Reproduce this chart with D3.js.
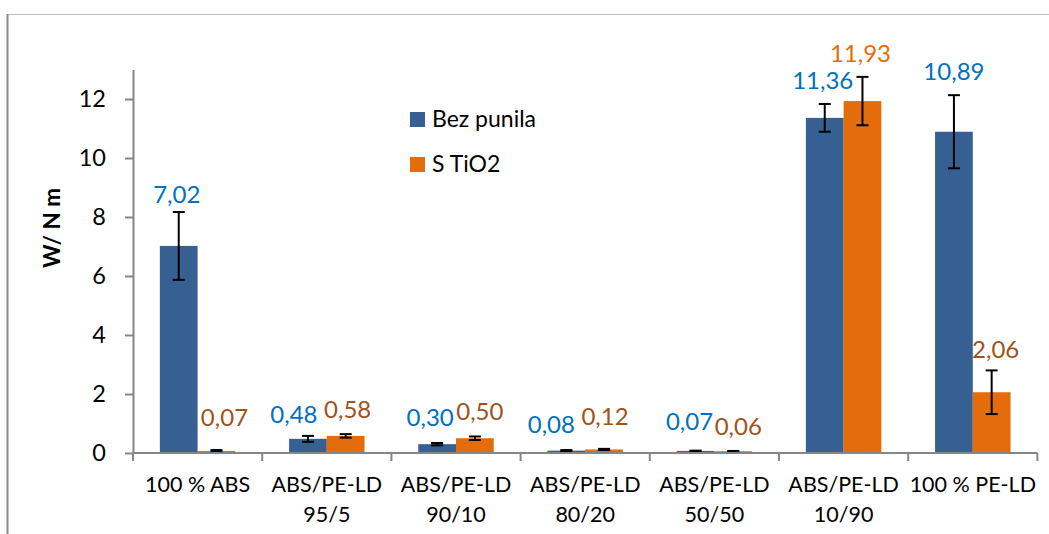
<!DOCTYPE html>
<html lang="en">
<head>
<meta charset="utf-8">
<title>W/ N m</title>
<script src="https://cdn.jsdelivr.net/npm/d3@7"></script>
<style>
  body { margin: 0; background: #fff; }
  svg { display: block; font-family: Lato, "Open Sans", sans-serif; }
</style>
</head>
<body>
<svg id="chart" width="1049" height="534"></svg>
<script>
// categories (two-line labels)
var categories = [
  ["100 % ABS"],
  ["ABS/PE-LD", "95/5"],
  ["ABS/PE-LD", "90/10"],
  ["ABS/PE-LD", "80/20"],
  ["ABS/PE-LD", "50/50"],
  ["ABS/PE-LD", "10/90"],
  ["100 % PE-LD"]
];
var seriesNames = ["Bez punila", "S TiO2"];

// values + error bars
var bezPunila    = [7.02, 0.48, 0.30, 0.08, 0.07, 11.36, 10.89];
var bezPunilaErr = [1.15, 0.10, 0.04, 0.02, 0.01, 0.47, 1.24];
var sTiO2        = [0.07, 0.58, 0.50, 0.12, 0.06, 11.93, 2.06];
var sTiO2Err     = [0.03, 0.06, 0.06, 0.02, 0.01, 0.82, 0.74];

var yTicks = [0, 2, 4, 6, 8, 10, 12];

// label nudges (px) -- the labels were hand-moved in the original
var labelNudgeBez = [[-2, 5], [-14, 1], [-7, -3], [-15, -3], [-6, -7], [-2, -1], [0, -1]];
var labelNudgeTi  = [[8, -10], [2, -2], [5, -2], [1, -10], [5, -2], [-2, -1], [4, 2]];

var svg = d3.select("#chart");

// outer frame (only top + left show in the crop)
svg.append("line").attr("x1", 7).attr("x2", 1049).attr("y1", 14.5).attr("y2", 14.5)
  .attr("stroke", "#c0c0c0").attr("stroke-width", 1.2);
svg.append("line").attr("x1", 7.5).attr("x2", 7.5).attr("y1", 14).attr("y2", 534)
  .attr("stroke", "#8c8c8c").attr("stroke-width", 2);

var plot = {left: 133, right: 1037.4, top: 69.5, bottom: 453};

var x0 = d3.scaleBand()
  .domain(d3.range(categories.length))
  .range([plot.left, plot.right])
  .paddingInner(0.416)
  .paddingOuter(0.208);

var x1 = d3.scaleBand()
  .domain([0, 1])
  .range([0, x0.bandwidth()]);

var y = d3.scaleLinear().domain([0, 13]).range([plot.bottom, plot.top]);

var colors = ["#376092", "#e46c0a"];
var labelColors = ["#0070c0", "#a0521a"];

var series = [
  {name: seriesNames[0], values: bezPunila, err: bezPunilaErr, nudge: labelNudgeBez},
  {name: seriesNames[1], values: sTiO2, err: sTiO2Err, nudge: labelNudgeTi}
];

// bars
series.forEach(function(s, si) {
  svg.append("g").selectAll("rect")
    .data(s.values)
    .join("rect")
      .attr("x", function(d, i) { return x0(i) + x1(si); })
      .attr("y", function(d) { return y(d); })
      .attr("width", x1.bandwidth())
      .attr("height", function(d) { return y(0) - y(d); })
      .attr("fill", colors[si]);
});

// error bars
series.forEach(function(s, si) {
  var g = svg.append("g").attr("stroke", "#000").attr("stroke-width", 2);
  s.values.forEach(function(v, i) {
    var cx = x0(i) + x1(si) + x1.bandwidth() / 2;
    var lo = y(Math.max(0, v - s.err[i])), hi = y(v + s.err[i]);
    g.append("line").attr("x1", cx).attr("x2", cx).attr("y1", lo).attr("y2", hi);
    g.append("line").attr("x1", cx - 6).attr("x2", cx + 6).attr("y1", hi).attr("y2", hi);
    g.append("line").attr("x1", cx - 6).attr("x2", cx + 6).attr("y1", lo).attr("y2", lo);
  });
});

// axes
var yAxis = svg.append("g")
  .attr("transform", "translate(" + plot.left + ",0)")
  .call(d3.axisLeft(y).tickValues(yTicks).tickSize(8).tickPadding(19).tickSizeOuter(0));
yAxis.select(".domain").attr("stroke", "#868686").attr("stroke-width", 2);
yAxis.selectAll(".tick line").attr("stroke", "#868686").attr("stroke-width", 2);
yAxis.selectAll(".tick text").attr("font-size", 23.5).attr("fill", "#000")
  .attr("font-family", "Lato, sans-serif");

var xg = svg.append("g");
xg.append("line").attr("x1", plot.left).attr("x2", plot.right)
  .attr("y1", plot.bottom).attr("y2", plot.bottom)
  .attr("stroke", "#868686").attr("stroke-width", 2);
xg.selectAll(".xtick")
  .data(d3.range(categories.length + 1))
  .join("line")
    .attr("x1", function(i) { return plot.left + i * x0.step(); })
    .attr("x2", function(i) { return plot.left + i * x0.step(); })
    .attr("y1", plot.bottom).attr("y2", plot.bottom + 8)
    .attr("stroke", "#868686").attr("stroke-width", 2);

xg.selectAll(".xlab")
  .data(categories)
  .join("text")
    .attr("text-anchor", "middle")
    .attr("font-size", 21.5)
    .attr("fill", "#000")
    .attr("transform", function(d, i) {
      return "translate(" + (x0(i) + x0.bandwidth() / 2) + "," + 492 + ")";
    })
    .each(function(d) {
      var t = d3.select(this);
      d.forEach(function(line, li) {
        t.append("tspan").attr("x", 0).attr("y", li * 30).text(line);
      });
    });

// data labels
var fmt = function(v) { return d3.format(".2f")(v).replace(".", ","); };
series.forEach(function(s, si) {
  svg.append("g").selectAll("text")
    .data(s.values)
    .join("text")
      .attr("text-anchor", "middle")
      .attr("font-size", 24)
      .attr("x", function(d, i) { return x0(i) + x1(si) + x1.bandwidth() / 2 + s.nudge[i][0]; })
      .attr("y", function(d, i) { return y(d + s.err[i]) - 14 + s.nudge[i][1]; })
      .attr("fill", function(d, i) { return (si === 1 && d > 10) ? colors[1] : labelColors[si]; })
      .text(fmt);
});

// y title
svg.append("text")
  .attr("transform", "translate(60,228) rotate(-90)")
  .attr("text-anchor", "middle")
  .attr("font-size", 22.5)
  .attr("font-weight", "bold")
  .text("W/ N m");

// legend
var legend = svg.append("g").attr("transform", "translate(410,112)");
seriesNames.forEach(function(n, i) {
  var g = legend.append("g").attr("transform", "translate(0," + i * 45 + ")");
  g.append("rect").attr("width", 15).attr("height", 15).attr("fill", colors[i]);
  g.append("text").attr("x", 22).attr("y", 15).attr("font-size", 23).text(n);
});
</script>
</body>
</html>
